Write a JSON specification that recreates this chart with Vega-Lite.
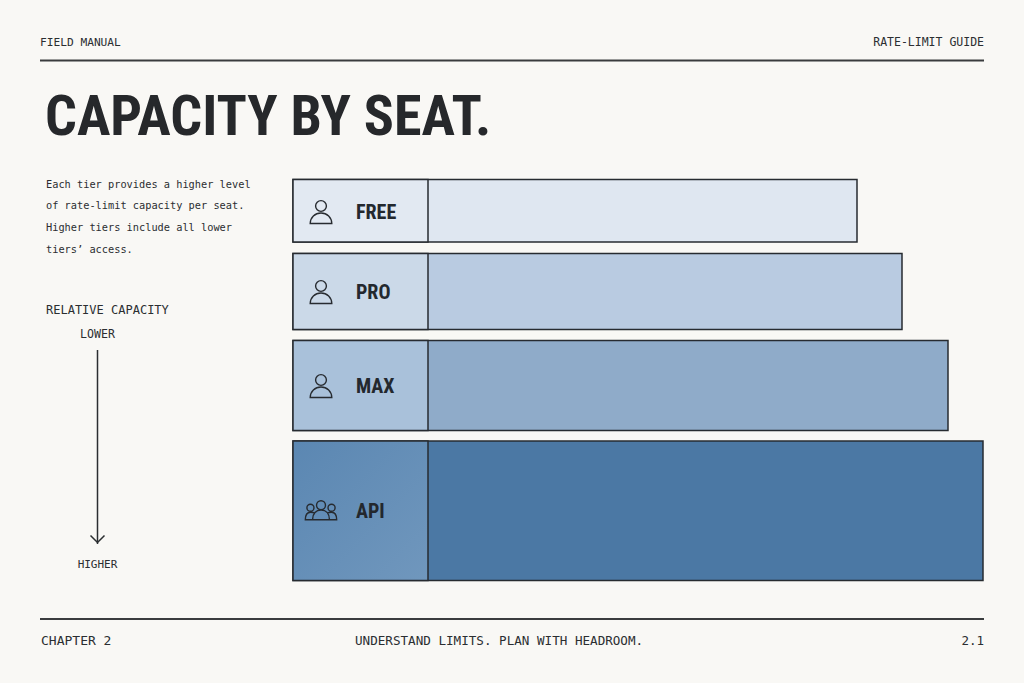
{"$schema":"https://vega.github.io/schema/vega-lite/v6.json","width":690,"height":402,"autosize":"none","padding":{"left":293,"top":179,"right":41,"bottom":102},"background":"#f9f8f5","config":{"view":{"stroke":null},"axis":{"disable":true},"legend":{"disable":true},"text":{"font":"DejaVu Sans Mono","color":"#2b2e31"}},"data":{"values":[{"tier":"FREE","capacity":564,"from":0.5,"to":63,"mid":33,"cell":135,"start":0,"seat":"single"},{"tier":"PRO","capacity":609,"from":74.5,"to":150.5,"mid":113,"cell":135,"start":0,"seat":"single"},{"tier":"MAX","capacity":655,"from":161.5,"to":251.5,"mid":207,"cell":135,"start":0,"seat":"single"},{"tier":"API","capacity":690,"from":262,"to":401.5,"mid":332,"cell":135,"start":0,"seat":"team"}]},"resolve":{"scale":{"color":"independent"}},"layer":[{"mark":{"type":"rect","stroke":"#272b30","strokeWidth":1.5},"encoding":{"x":{"field":"start","type":"quantitative","scale":{"domain":[0,690],"nice":false,"zero":false}},"x2":{"field":"capacity"},"y":{"field":"from","type":"quantitative","scale":{"domain":[0,402],"reverse":true,"nice":false,"zero":false}},"y2":{"field":"to"},"color":{"field":"tier","type":"nominal","scale":{"domain":["FREE","PRO","MAX","API"],"range":["#dfe7f1","#b9cbe1","#8fabc9","#4b78a4"]}}}},{"transform":[{"filter":"datum.tier !== 'API'"}],"mark":{"type":"rect","stroke":"#272b30","strokeWidth":1.5},"encoding":{"x":{"field":"start","type":"quantitative"},"x2":{"field":"cell"},"y":{"field":"from","type":"quantitative"},"y2":{"field":"to"},"color":{"field":"tier","type":"nominal","scale":{"domain":["FREE","PRO","MAX"],"range":["#e2e9f2","#cbd9e8","#a9c1da"]}}}},{"transform":[{"filter":"datum.tier === 'API'"}],"mark":{"type":"rect","stroke":"#272b30","strokeWidth":1.5,"fill":{"x1":0,"y1":0,"x2":1,"y2":1,"gradient":"linear","stops":[{"offset":0,"color":"#5b87b2"},{"offset":1,"color":"#7097bd"}]}},"encoding":{"x":{"field":"start","type":"quantitative"},"x2":{"field":"cell"},"y":{"field":"from","type":"quantitative"},"y2":{"field":"to"}}},{"mark":{"type":"point","filled":false,"stroke":"#272b30","strokeWidth":1.4,"opacity":1},"encoding":{"x":{"datum":28,"type":"quantitative"},"y":{"field":"mid","type":"quantitative"},"shape":{"field":"seat","type":"nominal","scale":{"domain":["single","team"],"range":["M-0.45,-0.5A0.45,0.45 0 1,0 0.45,-0.5A0.45,0.45 0 1,0 -0.45,-0.5Z M-0.9,0.96 C-0.9,0.45 -0.5,0.08 0,0.08 C0.5,0.08 0.9,0.45 0.9,0.96 Z","M-0.28,-0.36A0.28,0.28 0 1,0 0.28,-0.36A0.28,0.28 0 1,0 -0.28,-0.36Z M-0.88,-0.2A0.22,0.22 0 1,0 -0.44,-0.2A0.22,0.22 0 1,0 -0.88,-0.2Z M0.44,-0.2A0.22,0.22 0 1,0 0.88,-0.2A0.22,0.22 0 1,0 0.44,-0.2Z M-0.53,0.55 C-0.53,0.15 -0.3,-0.06 0,-0.06 C0.3,-0.06 0.53,0.15 0.53,0.55 Z M-0.53,0.55 L-0.98,0.55 C-0.98,0.25 -0.85,0.08 -0.65,0.08 C-0.55,0.08 -0.45,0.1 -0.4,0.13 M0.53,0.55 L0.98,0.55 C0.98,0.25 0.85,0.08 0.65,0.08 C0.55,0.08 0.45,0.1 0.4,0.13"]}},"size":{"field":"seat","type":"nominal","scale":{"domain":["single","team"],"range":[576,1024]}}}},{"mark":{"type":"text","font":"'Roboto Condensed','Open Sans Condensed','Liberation Sans Narrow','DejaVu Sans Condensed',Roboto","fontWeight":"bold","fontSize":20,"align":"left","baseline":"middle","dy":0.5,"color":"#23282e"},"encoding":{"x":{"datum":63,"type":"quantitative"},"y":{"field":"mid","type":"quantitative"},"text":{"field":"tier"}}},{"data":{"values":[{"t":"CAPACITY BY SEAT."}]},"mark":{"type":"text","font":"'Roboto Condensed','Open Sans Condensed','Liberation Sans Narrow','DejaVu Sans Condensed',Roboto","fontWeight":"bold","fontSize":56,"align":"left","baseline":"middle","color":"#26282b"},"encoding":{"x":{"datum":-248,"type":"quantitative"},"y":{"datum":-61,"type":"quantitative"},"text":{"field":"t"}}},{"data":{"values":[{"t":"FIELD MANUAL"}]},"mark":{"type":"text","fontSize":11.2,"align":"left","baseline":"middle","dy":1},"encoding":{"x":{"datum":-253,"type":"quantitative"},"y":{"datum":-137,"type":"quantitative"},"text":{"field":"t"}}},{"data":{"values":[{"t":"RATE-LIMIT GUIDE"}]},"mark":{"type":"text","fontSize":11.5,"align":"right","baseline":"middle","dy":1},"encoding":{"x":{"datum":691,"type":"quantitative"},"y":{"datum":-137,"type":"quantitative"},"text":{"field":"t"}}},{"data":{"values":[{"t":"CHAPTER 2"}]},"mark":{"type":"text","fontSize":13,"align":"left","baseline":"middle"},"encoding":{"x":{"datum":-252,"type":"quantitative"},"y":{"datum":462,"type":"quantitative"},"text":{"field":"t"}}},{"data":{"values":[{"t":"UNDERSTAND LIMITS. PLAN WITH HEADROOM."}]},"mark":{"type":"text","fontSize":12.6,"align":"left","baseline":"middle"},"encoding":{"x":{"datum":62,"type":"quantitative"},"y":{"datum":462,"type":"quantitative"},"text":{"field":"t"}}},{"data":{"values":[{"t":"2.1"}]},"mark":{"type":"text","fontSize":12.5,"align":"right","baseline":"middle"},"encoding":{"x":{"datum":691,"type":"quantitative"},"y":{"datum":462,"type":"quantitative"},"text":{"field":"t"}}},{"data":{"values":[{"t":"Each tier provides a higher level"}]},"mark":{"type":"text","fontSize":10.3,"align":"left","baseline":"middle"},"encoding":{"x":{"datum":-247,"type":"quantitative"},"y":{"datum":5.5,"type":"quantitative"},"text":{"field":"t"}}},{"data":{"values":[{"t":"of rate-limit capacity per seat."}]},"mark":{"type":"text","fontSize":10.3,"align":"left","baseline":"middle"},"encoding":{"x":{"datum":-247,"type":"quantitative"},"y":{"datum":26.5,"type":"quantitative"},"text":{"field":"t"}}},{"data":{"values":[{"t":"Higher tiers include all lower"}]},"mark":{"type":"text","fontSize":10.3,"align":"left","baseline":"middle"},"encoding":{"x":{"datum":-247,"type":"quantitative"},"y":{"datum":48.5,"type":"quantitative"},"text":{"field":"t"}}},{"data":{"values":[{"t":"tiers’ access."}]},"mark":{"type":"text","fontSize":10.3,"align":"left","baseline":"middle"},"encoding":{"x":{"datum":-247,"type":"quantitative"},"y":{"datum":70.5,"type":"quantitative"},"text":{"field":"t"}}},{"data":{"values":[{"t":"RELATIVE CAPACITY"}]},"mark":{"type":"text","fontSize":12,"align":"left","baseline":"middle"},"encoding":{"x":{"datum":-247,"type":"quantitative"},"y":{"datum":131,"type":"quantitative"},"text":{"field":"t"}}},{"data":{"values":[{"t":"LOWER"}]},"mark":{"type":"text","fontSize":11.6,"align":"center","baseline":"middle"},"encoding":{"x":{"datum":-195.5,"type":"quantitative"},"y":{"datum":156,"type":"quantitative"},"text":{"field":"t"}}},{"data":{"values":[{"t":"HIGHER"}]},"mark":{"type":"text","fontSize":11,"align":"center","baseline":"middle"},"encoding":{"x":{"datum":-195.5,"type":"quantitative"},"y":{"datum":386,"type":"quantitative"},"text":{"field":"t"}}},{"data":{"values":[{"a":-253,"b":691,"y":-118.5}]},"mark":{"type":"rule","stroke":"#3a3c3e","strokeWidth":2},"encoding":{"x":{"field":"a","type":"quantitative"},"x2":{"field":"b"},"y":{"field":"y","type":"quantitative"}}},{"data":{"values":[{"a":-253,"b":691,"y":440}]},"mark":{"type":"rule","stroke":"#3a3c3e","strokeWidth":2},"encoding":{"x":{"field":"a","type":"quantitative"},"x2":{"field":"b"},"y":{"field":"y","type":"quantitative"}}},{"data":{"values":[{"x":-195.5,"a":171,"b":365}]},"mark":{"type":"rule","stroke":"#2b2e31","strokeWidth":1.5},"encoding":{"x":{"field":"x","type":"quantitative"},"y":{"field":"a","type":"quantitative"},"y2":{"field":"b"}}},{"data":{"values":[{"r":"head"}]},"mark":{"type":"point","filled":false,"stroke":"#2b2e31","strokeWidth":1.5,"opacity":1,"size":196,"shape":"M-1,-0.5L0,0.5L1,-0.5"},"encoding":{"x":{"datum":-195.5,"type":"quantitative"},"y":{"datum":360,"type":"quantitative"}}}]}
